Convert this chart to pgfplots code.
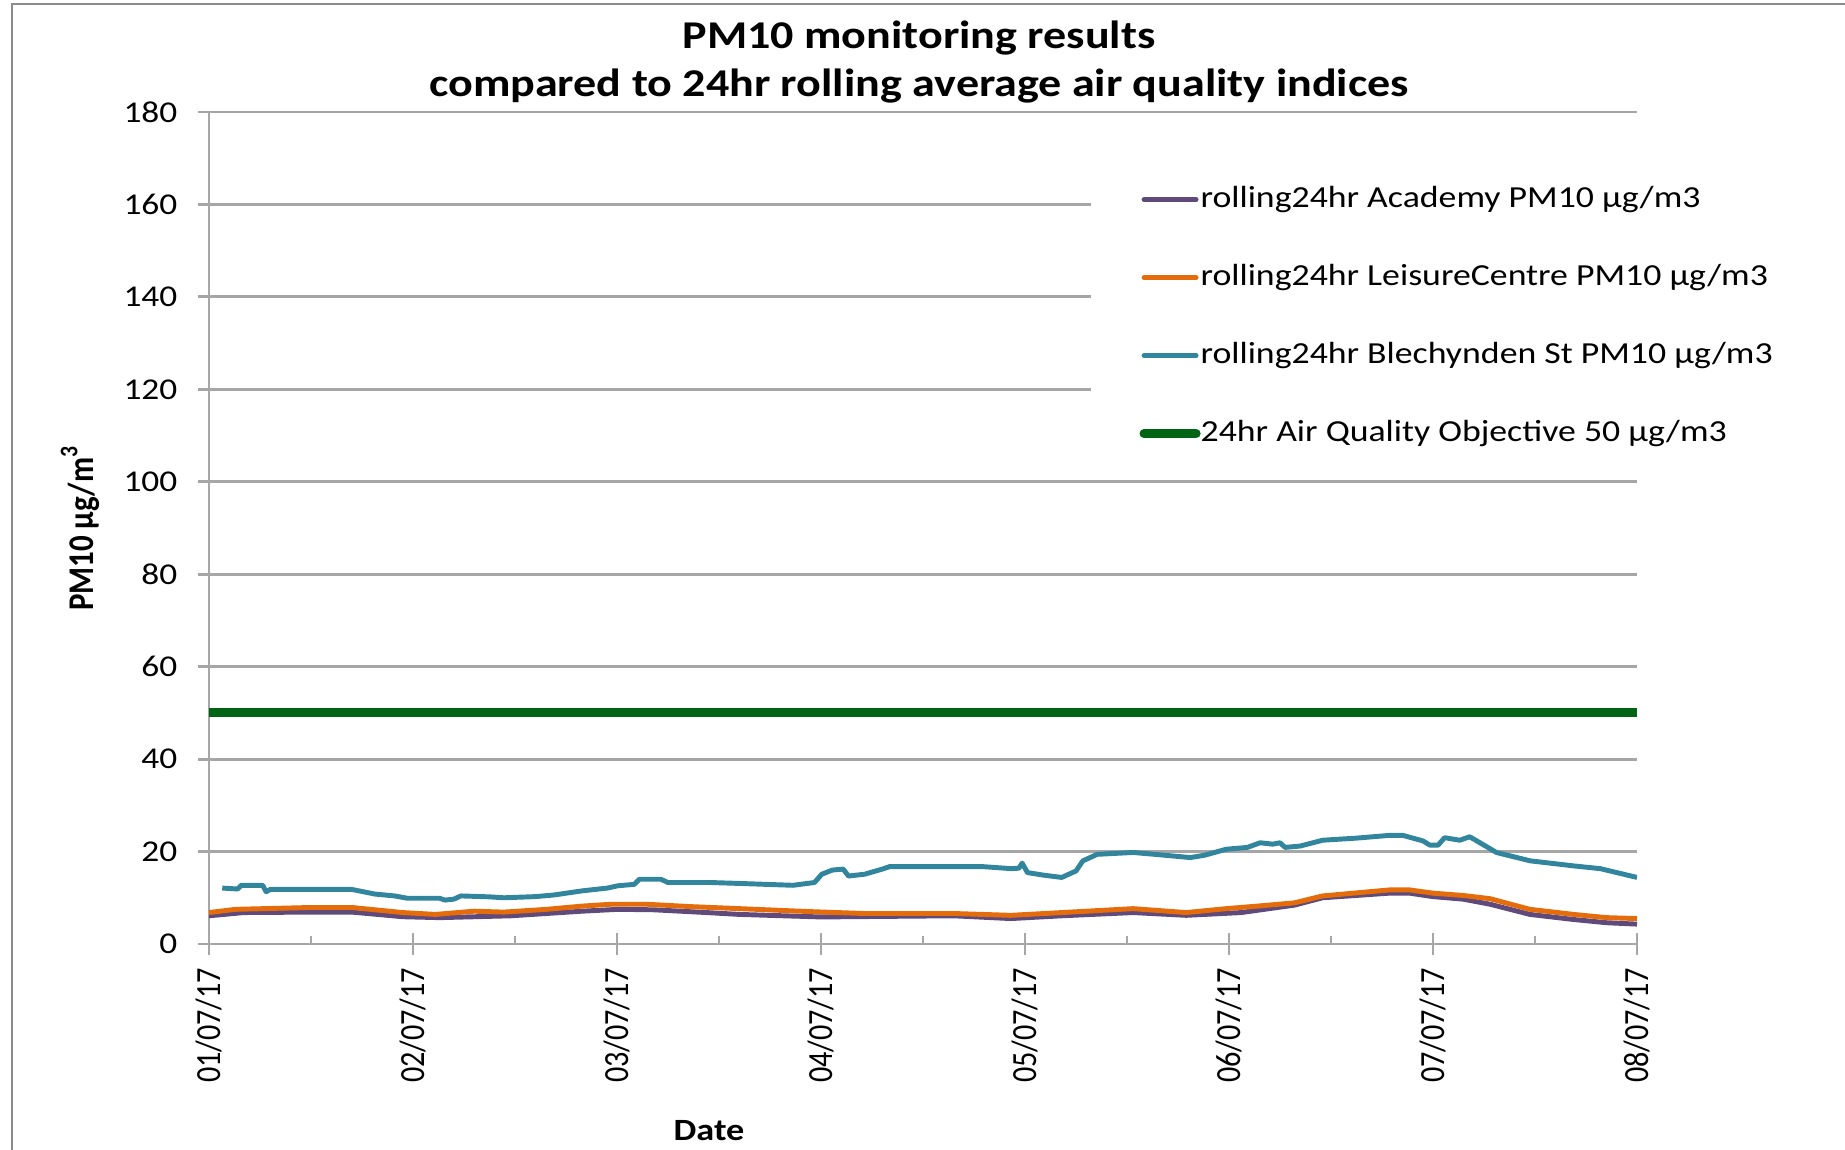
\documentclass[border=0pt]{standalone}
\usepackage{pgfplots}
\pgfplotsset{compat=1.18}
\usepackage{fontspec}
\setmainfont{Carlito}
\newfontfamily\stf[FakeStretch=1.17]{Carlito}
\definecolor{cPurple}{HTML}{604A7B}
\definecolor{cOrange}{HTML}{E46C0A}
\definecolor{cTeal}{HTML}{31859C}
\definecolor{cGreen}{HTML}{006414}
\definecolor{gridgray}{HTML}{A6A6A6}
\definecolor{framegray}{HTML}{8C8C8C}
\newcommand{\xl}[1]{\scalebox{1}[1.17]{#1}}
\begin{document}
\begin{tikzpicture}
\useasboundingbox (0,0) rectangle (18.45cm,11.49cm);
\draw[framegray, line width=0.7pt] (0.12cm,-1cm) -- (0.12cm,11.45cm) -- (20cm,11.45cm);
\begin{axis}[
  at={(2.09cm,2.05cm)}, anchor=south west,
  width=14.28cm, height=8.32cm, scale only axis,
  xmin=0, xmax=7, ymin=0, ymax=180,
  axis x line*=bottom, axis y line*=left,
  axis line style={draw=gridgray, line width=0.8pt, -},
  ytick={0,20,...,180},
  yticklabels={0,20,40,60,80,100,120,140,160,180},
  xtick={0,1,2,3,4,5,6,7},
  xticklabels={\xl{01/07/17},\xl{02/07/17},\xl{03/07/17},\xl{04/07/17},\xl{05/07/17},\xl{06/07/17},\xl{07/07/17},\xl{08/07/17}},
  minor xtick={0.5,1.5,2.5,3.5,4.5,5.5,6.5},
  tick align=center,
  major tick length=0.22cm,
  minor tick length=0.08cm,
  tick style={draw=gridgray, line width=0.8pt},
  minor x tick style={yshift=0.04cm},
  ymajorgrids,
  grid style={draw=gridgray, line width=0.8pt},
  yticklabel style={font=\stf\fontsize{8.6}{10}\selectfont, anchor=east, inner sep=0pt, xshift=-0.2cm},
  xticklabel style={font=\fontsize{8.6}{10}\selectfont, yshift=-0.12cm, rotate=90, anchor=east, inner sep=0pt},
  legend style={at={(axis description cs:0.6168,0.938)}, anchor=north west,
    draw=none, fill=white, inner xsep=0.49cm, inner ysep=0.2cm,
    font=\stf\fontsize{8.7}{10.4}\selectfont,
    row sep=0.474cm, column sep=0pt,
    nodes={inner sep=0pt, text height=0.23cm, text depth=0.076cm}},
  legend cell align=left,
  legend image code/.code={\draw[#1, line cap=round] (0cm,0cm) -- (0.52cm,0cm);},
  every axis plot/.append style={line join=round},
]
\addplot[cPurple, line width=1.4pt] coordinates {
(0,6.1) (0.17,6.8) (0.5,6.9) (0.70,6.9) (0.95,5.9) (1.13,5.7) (1.48,6.1) (1.83,7.1) (2.005,7.5) (2.18,7.4) (2.44,6.8) (2.6,6.4) (3.0,5.85) (3.65,6.1) (3.93,5.5) (4.18,6.1) (4.53,6.8) (4.79,6.2) (5.06,6.8) (5.23,7.85) (5.32,8.4) (5.459,10.0) (5.787,11.0) (5.885,11.0) (6.0,10.25) (6.148,9.7) (6.28,8.6) (6.475,6.4) (6.689,5.3) (6.852,4.6) (7.0,4.3)
};
\addlegendentry{rolling24hr Academy PM10 µg/m3}
\addplot[cOrange, line width=1.4pt] coordinates {
(0,6.8) (0.13,7.5) (0.5,7.9) (0.70,7.9) (0.95,6.8) (1.11,6.4) (1.30,7.1) (1.445,6.9) (1.655,7.5) (1.83,8.2) (1.97,8.6) (2.145,8.6) (2.355,8.1) (2.6,7.65) (2.95,7.0) (3.21,6.6) (3.65,6.6) (3.93,6.2) (4.18,6.8) (4.53,7.65) (4.79,6.8) (4.986,7.65) (5.14,8.2) (5.32,8.9) (5.459,10.4) (5.787,11.7) (5.885,11.7) (6.0,11.0) (6.148,10.5) (6.28,9.8) (6.475,7.5) (6.689,6.4) (6.852,5.7) (7.0,5.5)
};
\addlegendentry{rolling24hr LeisureCentre PM10 µg/m3}
\addplot[cTeal, line width=1.4pt] coordinates {
(0.065,12.1) (0.14,11.9) (0.158,12.7) (0.263,12.7) (0.28,11.3) (0.30,11.8) (0.70,11.8) (0.814,10.8) (0.91,10.4) (0.972,9.9) (1.13,9.9) (1.156,9.5) (1.20,9.7) (1.235,10.4) (1.375,10.2) (1.445,10.0) (1.60,10.25) (1.69,10.6) (1.83,11.5) (1.953,12.1) (2.005,12.6) (2.084,12.9) (2.11,14.0) (2.215,14.0) (2.25,13.3) (2.46,13.3) (2.6,13.1) (2.863,12.7) (2.968,13.3) (3.004,15.1) (3.056,16.0) (3.109,16.2) (3.135,14.7) (3.214,15.1) (3.30,16.2) (3.337,16.75) (3.705,16.75) (3.79,16.75) (3.933,16.3) (3.97,16.4) (3.986,17.5) (4.012,15.45) (4.09,14.9) (4.18,14.4) (4.25,15.8) (4.284,18.0) (4.354,19.4) (4.53,19.8) (4.635,19.4) (4.81,18.7) (4.88,19.2) (4.986,20.5) (5.09,20.9) (5.153,21.9) (5.214,21.6) (5.25,21.9) (5.275,20.9) (5.35,21.2) (5.459,22.45) (5.623,22.9) (5.787,23.5) (5.852,23.5) (5.951,22.3) (5.984,21.4) (6.025,21.4) (6.057,23.0) (6.131,22.45) (6.18,23.2) (6.311,19.8) (6.475,18.0) (6.689,16.9) (6.82,16.3) (7.0,14.4)
};
\addlegendentry{rolling24hr Blechynden St PM10 µg/m3}
\addplot[cGreen, line width=2.6pt] coordinates {(0,50) (7,50)};
\addlegendentry{24hr Air Quality Objective 50 µg/m3}
\end{axis}
\node[anchor=base, font=\stf\bfseries\fontsize{11.2}{13.6}\selectfont] at (9.19cm,11.00cm) {PM10 monitoring results};
\node[anchor=base, font=\stf\bfseries\fontsize{11.2}{13.6}\selectfont] at (9.19cm,10.52cm) {compared to 24hr rolling average air quality indices};
\node[rotate=90, font=\bfseries\fontsize{8.8}{10}\selectfont] at (0.80cm,6.21cm) {\xl{PM10 µg/m\textsuperscript{3}}};
\node[font=\stf\bfseries\fontsize{8.8}{10}\selectfont] at (7.09cm,0.18cm) {Date};
\end{tikzpicture}
\end{document}
